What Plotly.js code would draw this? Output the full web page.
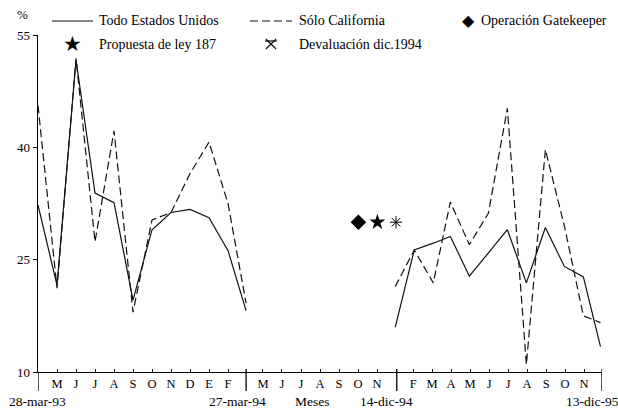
<!DOCTYPE html>
<html>
<head>
<meta charset="utf-8">
<script src="https://cdn.plot.ly/plotly-3.0.1.min.js"></script>
<style>
html,body{margin:0;padding:0;background:#fff;}
#chart{width:618px;height:409px;}
</style>
</head>
<body>
<div id="chart"></div>
<script>
// ---- data (month index on a continuous axis; null = no data for the gap) ----
const months = [0, 1, 2, 3, 4, 5, 6, 7, 8, 9, 10, 10.95, 14.9,
                18.8, 19.8, 20.8, 21.7, 22.7, 23.7, 24.7, 25.7, 26.7, 27.7, 28.7, 29.6];
const todoEEUU = [32.3, 21.6, 51.7, 33.9, 32.6, 19.6, 29.0, 31.3, 31.7, 30.6, 26.2, 18.2, null,
                  16.0, 26.3, 27.2, 28.1, 22.8, 25.9, 29.0, 21.9, 29.3, 24.1, 22.7, 13.4];
const soloCalifornia = [45.6, 21.2, 51.9, 27.4, 42.2, 18.0, 30.3, 31.3, 36.5, 40.7, 32.5, 19.2, null,
                        21.4, 26.3, 21.9, 32.7, 27.0, 31.2, 45.2, 11.0, 39.7, 29.5, 17.5, 16.6];

const eventNames = ['Operación Gatekeeper', 'Propuesta de ley 187', 'Devaluación dic.1994'];
const eventX = [16.86, 17.86, 18.84];
const eventY = [30, 30, 30];

const tickPos = [1, 2, 3, 4, 5, 6, 7, 8, 9, 10,
                 11.84, 12.84, 13.84, 14.84, 15.84, 16.84, 17.84,
                 19.74, 20.74, 21.74, 22.74, 23.74, 24.74, 25.74, 26.74, 27.74, 28.74];
const tickLabels = ['M', 'J', 'J', 'A', 'S', 'O', 'N', 'D', 'E', 'F',
                    'M', 'J', 'J', 'A', 'S', 'O', 'N',
                    'F', 'M', 'A', 'M', 'J', 'J', 'A', 'S', 'O', 'N'];
const yTicks = [10, 25, 40, 55];

const dividerX = [0, 10.95, 18.88, 29.68];
const dateLabels = ['28-mar-93', '27-mar-94', 'Meses', '14-dic-94', '13-dic-95'];

// ---- layout helpers (pixel -> paper) ----
const W = 618, H = 409, L = 38, R = 16, T = 35, B = 37;
const PW = W - L - R, PH = H - T - B;
const px = x => (x - L) / PW;
const py = y => (H - B - y) / PH;
const SERIF = 'Liberation Serif, Times New Roman, serif';
const SYM = 'DejaVu Sans, sans-serif';
const dateLabelPx = [37, 237, 312, 386, 592];

const traces = [
  {x: months, y: todoEEUU, mode: 'lines', name: 'Todo Estados Unidos',
   line: {color: '#111', width: 1.2}, connectgaps: false, hoverinfo: 'skip'},
  {x: months, y: soloCalifornia, mode: 'lines', name: 'Sólo California',
   line: {color: '#111', width: 1.2, dash: '8px,4px'}, connectgaps: false, hoverinfo: 'skip'},
  {x: [eventX[0]], y: [eventY[0]], mode: 'markers', name: eventNames[0],
   marker: {symbol: 'diamond', size: 12, color: '#000'}},
  {x: [eventX[1]], y: [eventY[1]], mode: 'markers', name: eventNames[1],
   marker: {symbol: 'star', size: 12, color: '#000'}},
  {x: [eventX[2]], y: [eventY[2]], mode: 'markers', name: eventNames[2],
   marker: {symbol: 'asterisk-open', size: 10, color: '#000', line: {color: '#000', width: 1}}}
];

const shapes = [];
dividerX.forEach((x, i) => {
  shapes.push({type: 'line', xref: 'x', yref: 'paper', x0: x, x1: x,
    y0: py(i === 0 ? 372 : 369), y1: py(391), line: {color: '#000', width: 1.3}});
});
const pxLine = (x0, y0, x1, y1, dash) => shapes.push({type: 'line', xref: 'paper', yref: 'paper',
  x0: px(x0), x1: px(x1), y0: py(y0), y1: py(y1), line: {color: '#111', width: 1.2, dash: dash || 'solid'}});
// legend line samples
pxLine(52, 21, 93, 21);
pxLine(250, 21, 292, 21, '8px,4px');
// legend asterisk glyph (six arms)
const ax = 271, ay = 44, ar = 6;
pxLine(ax - ar, ay - 3, ax + ar, ay - 3);
pxLine(ax - ar * 0.85, ay - ar + 1, ax + ar * 0.85, ay + ar - 1);
pxLine(ax + ar * 0.85, ay - ar + 1, ax - ar * 0.85, ay + ar - 1);

const annotations = [];
const addText = (text, x, y, anchor, size, family) => annotations.push({
  text: text, xref: 'paper', yref: 'paper', x: px(x), y: py(y), xanchor: anchor, yanchor: 'middle',
  showarrow: false, font: {family: family || SERIF, size: size || 14, color: '#000'}
});
addText('%', 22, 15, 'center', 13);
addText('Todo Estados Unidos', 97, 21, 'left');
addText('Sólo California', 297, 21, 'left');
addText(eventNames[0], 479, 21, 'left');
addText(eventNames[1], 97, 44, 'left');
addText(eventNames[2], 297, 44, 'left');
addText('◆', 468, 21, 'center', 16, SYM);
addText('★', 72, 44, 'center', 21, SYM);
dateLabels.forEach((t, i) => addText(t, dateLabelPx[i], 401, 'center', 13.5));

const layout = {
  width: W, height: H,
  margin: {l: L, r: R, t: T, b: B, pad: 0},
  paper_bgcolor: '#fff', plot_bgcolor: '#fff',
  showlegend: false,
  font: {family: SERIF, size: 13, color: '#000'},
  xaxis: {range: [0, 29.68], showgrid: false, zeroline: false, showline: true,
    linecolor: '#000', linewidth: 1.2, ticks: 'inside', ticklen: 3, tickcolor: '#000',
    tickvals: tickPos, ticktext: tickLabels, tickfont: {family: SERIF, size: 12.5, color: '#000'},
    fixedrange: true},
  yaxis: {range: [10, 55], showgrid: false, zeroline: false, showline: true,
    linecolor: '#000', linewidth: 1.3, ticks: 'outside', ticklen: 4, tickcolor: '#000',
    tickvals: yTicks, ticktext: yTicks.map(String), tickfont: {family: SERIF, size: 13, color: '#000'},
    fixedrange: true},
  shapes: shapes,
  annotations: annotations
};

Plotly.newPlot('chart', traces, layout, {staticPlot: true, displayModeBar: false});
</script>
</body>
</html>
